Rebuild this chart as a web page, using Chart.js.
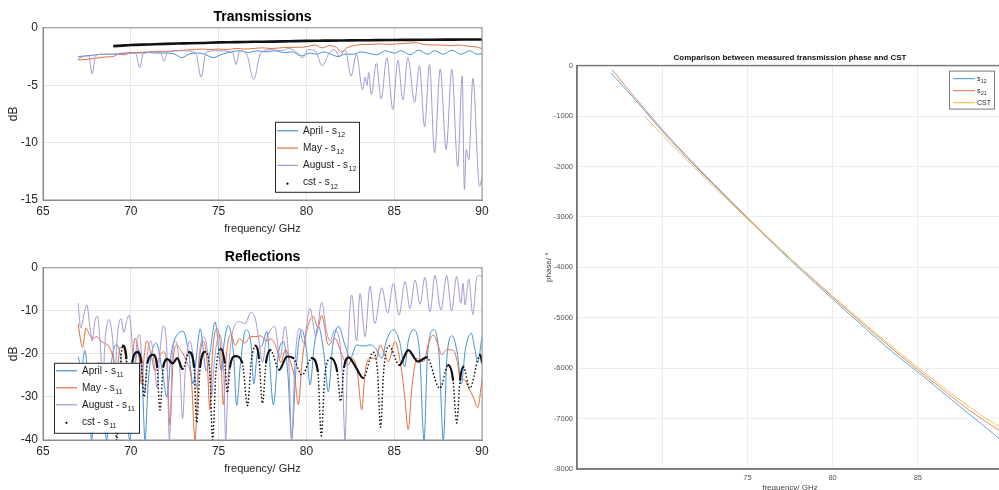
<!DOCTYPE html>
<html>
<head>
<meta charset="utf-8">
<script src="https://cdn.jsdelivr.net/npm/chart.js@4.4.0/dist/chart.umd.min.js"></script>
<style>
  html, body { margin: 0; padding: 0; background: #fff; overflow: hidden; }
  body { width: 999px; height: 490px; position: relative; }
  .box { position: absolute; }
  #trans { left: 0; top: 0; width: 500px; height: 240px; }
  #refl { left: 0; top: 240px; width: 500px; height: 240px; }
  #phase { left: 520px; top: 0; width: 487px; height: 496px; }
</style>
</head>
<body>
<div class="box" id="trans"><canvas id="transChart"></canvas></div>
<div class="box" id="refl"><canvas id="reflChart"></canvas></div>
<div class="box" id="phase"><canvas id="phaseChart"></canvas></div>
<script>
"use strict";

// ---- data: [frequency GHz, value] ----
const transApril = [[67.0,-2.5],[67.5,-2.45],[68.0,-2.35],[68.5,-2.3],[69.0,-2.3],[69.5,-2.25],[70.0,-2.15],[70.5,-2.2],[71.0,-2.15],[71.5,-2.2],[72.0,-2.2],[72.5,-2.3],[72.9,-2.6],[73.3,-2.3],[73.8,-2.2],[74.2,-2.3],[74.7,-2.6],[75.2,-2.3],[75.7,-2.1],[76.2,-2.0],[76.7,-2.15],[77.2,-2.0],[77.7,-2.1],[78.2,-2.0],[78.7,-2.15],[79.2,-2.1],[79.7,-2.45],[80.2,-2.2],[80.6,-2.3],[81.0,-2.1],[81.4,-2.3],[81.8,-2.5],[82.2,-2.3],[82.7,-2.3],[83.1,-2.1],[83.5,-2.2],[84.0,-2.35],[84.5,-2.0],[85.0,-2.2],[85.4,-2.0],[85.9,-2.35],[86.4,-1.95],[86.9,-2.3],[87.3,-2.0],[87.8,-2.3],[88.3,-1.95],[88.8,-2.3],[89.3,-2.0],[89.7,-2.3],[90.0,-2.25]];
const transMay = [[67.0,-2.8],[67.5,-2.75],[68.0,-2.65],[68.5,-2.55],[69.0,-2.5],[69.3,-2.3],[69.6,-2.35],[70.0,-2.2],[70.5,-2.15],[71.0,-2.1],[71.5,-2.05],[72.0,-2.05],[72.5,-2.0],[73.0,-1.95],[73.5,-1.9],[74.0,-1.85],[74.5,-1.9],[75.0,-1.85],[75.5,-1.9],[76.0,-1.8],[76.5,-1.85],[77.0,-1.8],[77.5,-1.75],[78.0,-1.8],[78.5,-1.75],[79.0,-1.7],[79.5,-1.7],[80.0,-1.65],[80.5,-1.5],[80.9,-1.75],[81.3,-1.55],[81.7,-1.7],[82.0,-2.1],[82.3,-1.75],[82.7,-1.55],[83.2,-1.45],[83.7,-1.45],[84.2,-1.4],[84.7,-1.45],[85.2,-1.4],[85.7,-1.35],[86.2,-1.3],[86.7,-1.45],[87.2,-1.5],[87.7,-1.5],[88.2,-1.55],[88.7,-1.5],[89.2,-1.6],[89.6,-1.65],[90.0,-1.8]];
const transAugust = [[67.0,-2.7],[67.3,-2.5],[67.6,-2.4],[67.8,-4.0],[68.0,-2.4],[68.5,-2.3],[69.0,-2.3],[69.5,-2.2],[70.0,-2.2],[70.3,-2.3],[70.5,-3.5],[70.7,-2.3],[71.2,-2.1],[71.7,-2.2],[71.9,-2.9],[72.1,-2.1],[73.0,-2.0],[73.7,-2.2],[74.0,-4.3],[74.3,-2.1],[75.0,-2.0],[75.8,-2.2],[76.0,-3.2],[76.2,-2.0],[76.6,-2.3],[77.0,-4.5],[77.4,-2.2],[78.0,-1.9],[78.6,-2.0],[79.0,-1.8],[79.5,-2.2],[79.8,-2.6],[80.1,-1.9],[80.5,-2.0],[80.9,-3.3],[81.3,-2.2],[81.6,-1.9],[81.9,-2.5],[82.2,-1.9],[82.55,-4.2],[82.85,-2.3],[83.2,-5.4],[83.35,-4.3],[83.45,-5.0],[83.55,-3.9],[83.7,-5.8],[83.98,-3.1],[84.26,-6.2],[84.58,-2.6],[84.92,-7.1],[85.21,-2.8],[85.49,-6.3],[85.78,-2.6],[86.16,-6.5],[86.44,-3.3],[86.73,-8.6],[87.01,-3.2],[87.3,-10.9],[87.62,-3.6],[87.96,-10.6],[88.28,-3.6],[88.62,-12.1],[88.87,-4.2],[89.0,-14.1],[89.1,-10.6],[89.25,-11.5],[89.48,-4.4],[89.86,-13.8],[90.0,-13.0]];
const transCst = [[69.0,-1.6],[69.5,-1.55],[70,-1.5],[71,-1.45],[72,-1.4],[73,-1.36],[74,-1.32],[75,-1.27],[76,-1.25],[77,-1.22],[78,-1.2],[79,-1.17],[80,-1.14],[81,-1.12],[82,-1.1],[83,-1.09],[84,-1.07],[85,-1.06],[86,-1.05],[87,-1.04],[88,-1.03],[89,-1.02],[90,-1.02]];

const reflApril = [[67.0,-20.6],[67.2,-23],[67.38,-19.2],[67.58,-27],[67.77,-40],[67.95,-27],[68.15,-22],[68.35,-27],[68.63,-40],[68.85,-24],[69.2,-17.8],[69.55,-24],[69.95,-40],[70.15,-26],[70.45,-19],[70.65,-26],[70.81,-40],[71.0,-26],[71.45,-17.5],[71.8,-24],[72.05,-30],[72.3,-20],[72.65,-15.5],[73.0,-14.8],[73.3,-20],[73.55,-27],[73.75,-20],[73.95,-14.2],[74.3,-24],[74.5,-20],[74.8,-12.6],[75.17,-24],[75.3,-18],[75.55,-13.4],[75.85,-20],[76.03,-32],[76.25,-22],[76.55,-14.4],[76.85,-18],[77.0,-27],[77.2,-20],[77.5,-17.8],[77.75,-14.8],[78.12,-31.8],[78.4,-20],[78.69,-17.1],[78.95,-25],[79.16,-39.6],[79.4,-24],[79.73,-14.4],[80.0,-19],[80.21,-27.2],[80.45,-18],[80.68,-13.6],[81.0,-20],[81.25,-28.8],[81.5,-18],[81.82,-13.6],[82.2,-18],[82.5,-21],[82.86,-17.9],[83.2,-18.2],[83.62,-17.9],[83.9,-18.5],[84.3,-21],[84.55,-17],[84.95,-14.4],[85.3,-17],[85.6,-23],[85.8,-17],[86.1,-14.4],[86.45,-20],[86.7,-40],[86.9,-20],[87.25,-14.4],[87.55,-20],[87.8,-40],[88.0,-21],[88.3,-15.8],[88.6,-20],[88.82,-27],[89.05,-19],[89.38,-15.2],[89.6,-19],[89.75,-22],[90.0,-16]];
const reflMay = [[67.0,-13],[67.15,-17],[67.25,-18.5],[67.45,-14],[67.65,-15.5],[67.85,-16.4],[68.05,-16],[68.3,-17],[68.5,-17.5],[68.8,-18.5],[69.0,-21],[69.2,-24],[69.4,-18.5],[69.6,-19],[69.95,-25.7],[70.24,-16.4],[70.45,-20],[70.6,-27],[70.75,-21],[70.9,-17],[71.15,-20],[71.38,-24],[71.6,-21],[71.85,-19.5],[72.05,-22],[72.23,-36.5],[72.4,-22],[72.6,-18],[72.9,-19.5],[73.2,-22],[73.45,-26],[73.66,-40],[73.85,-24],[74.13,-17.1],[74.35,-22],[74.5,-33],[74.65,-20],[74.89,-14.1],[75.1,-18],[75.27,-31.8],[75.45,-20],[75.7,-15.5],[75.95,-18],[76.2,-16.5],[76.5,-17.5],[76.8,-16],[77.07,-16],[77.4,-15.8],[77.7,-17],[78.0,-16.5],[78.3,-18.7],[78.55,-22],[78.8,-19],[79.1,-22],[79.35,-26],[79.54,-31.8],[79.75,-22],[80.0,-15],[80.4,-11.3],[80.65,-14],[80.87,-11.0],[81.25,-17.9],[81.63,-16.4],[82.0,-20],[82.39,-22.6],[82.6,-21],[82.9,-24],[83.15,-33],[83.35,-24],[83.6,-21],[84.0,-21],[84.19,-17.9],[84.45,-20],[84.67,-21.8],[85.05,-17.1],[85.35,-22],[85.6,-30],[85.8,-37.6],[86.0,-28],[86.3,-21],[86.66,-21.8],[87.0,-17],[87.23,-15.6],[87.5,-18],[87.7,-20.2],[88.0,-19],[88.37,-19.2],[88.6,-22],[88.75,-25.7],[89.0,-26],[89.25,-28],[89.5,-30],[89.75,-32.5],[90.0,-26]];
const reflAugust = [[67.0,-8.2],[67.15,-14],[67.35,-10.5],[67.5,-8.6],[67.65,-13],[67.8,-17],[67.95,-12.5],[68.1,-11.2],[68.25,-17],[68.4,-26],[68.55,-16],[68.75,-12],[68.95,-16],[69.1,-24],[69.25,-15],[69.45,-11.8],[69.6,-15],[69.75,-12.5],[69.9,-11],[70.05,-16],[70.2,-27],[70.35,-17],[70.5,-15.5],[70.65,-22],[70.8,-29],[70.95,-20],[71.15,-17],[71.35,-23],[71.5,-28],[71.65,-20],[71.85,-13.5],[72.05,-19],[72.2,-40],[72.35,-22],[72.55,-17],[72.8,-24],[72.95,-35],[73.1,-24],[73.35,-17],[73.6,-22],[73.75,-28],[73.9,-20],[74.15,-16],[74.45,-22],[74.6,-30],[74.75,-22],[75.05,-15.5],[75.3,-25],[75.4,-40],[75.55,-25],[75.85,-14],[76.2,-12.5],[76.5,-13],[76.85,-10.3],[77.1,-12],[77.3,-17],[77.5,-22],[77.7,-17],[77.95,-14.5],[78.2,-13.6],[78.5,-21],[78.78,-13.6],[79.0,-22],[79.16,-40],[79.35,-22],[79.6,-14],[79.83,-17.5],[80.2,-9.4],[80.55,-16],[80.87,-8.0],[81.15,-14.8],[81.35,-17],[81.6,-14.5],[81.85,-16],[82.05,-25],[82.2,-40],[82.35,-20],[82.58,-6.3],[82.86,-17],[83.05,-6.0],[83.34,-16],[83.62,-4.3],[83.9,-13],[84.29,-4.6],[84.63,-10.5],[84.95,-3.6],[85.27,-11],[85.62,-3.2],[85.9,-9.5],[86.19,-2.8],[86.47,-8.5],[86.75,-2.2],[87.04,-10.2],[87.32,-1.8],[87.66,-9.8],[87.99,-1.8],[88.27,-10],[88.56,-2.0],[88.8,-8.2],[88.92,-3.6],[89.03,-8.6],[89.25,-2.6],[89.48,-10.9],[89.7,-2.3],[89.85,-1.8],[90.0,-1.9]];
const reflCst = [[68.9,-24],[69.05,-30],[69.2,-40],[69.35,-26],[69.55,-18.1],[69.75,-21],[69.9,-33],[70.05,-23],[70.37,-19.6],[70.6,-22],[70.75,-30],[70.95,-22],[71.28,-20.2],[71.5,-23],[71.66,-33],[71.85,-23],[72.1,-21.2],[72.38,-22.2],[72.65,-21.0],[72.95,-23.5],[73.33,-19.6],[73.6,-23],[73.75,-36],[73.95,-23],[74.23,-19.5],[74.5,-24],[74.66,-40],[74.85,-24],[75.12,-18.8],[75.35,-22],[75.5,-29],[75.65,-23],[75.95,-20.5],[76.35,-22],[76.65,-32],[76.85,-22],[77.1,-18.1],[77.3,-21],[77.5,-31.5],[77.7,-22],[77.95,-19.1],[78.45,-23.7],[78.9,-20.6],[79.25,-21.0],[79.75,-24.9],[80.3,-21.0],[80.65,-24],[80.85,-39],[81.05,-25],[81.4,-21.0],[81.75,-24],[81.95,-31],[82.15,-23],[82.4,-20.8],[82.8,-23],[83.24,-25.6],[83.8,-19.6],[84.05,-24],[84.22,-37],[84.4,-24],[84.7,-18.1],[85.3,-22.6],[85.8,-19.1],[86.35,-21.8],[86.85,-20.8],[87.6,-28],[88.08,-22.6],[88.35,-26],[88.56,-36],[88.75,-26],[88.94,-23],[89.3,-28],[89.9,-20.2],[90.0,-22]];

const phaseS12 = [[67.0,-146],[68,-520],[69,-905],[70,-1300],[71,-1665],[72,-2015],[73,-2360],[74,-2700],[75,-3035],[76,-3365],[77,-3690],[78,-4010],[79,-4320],[80,-4630],[81,-4935],[82,-5235],[83,-5530],[84,-5810],[85,-6075],[86,-6355],[87,-6630],[88,-6905],[89,-7180],[90,-7460]];
const phaseS21 = [[67.06,-80],[68,-470],[69,-870],[70,-1265],[71,-1635],[72,-1990],[73,-2335],[74,-2675],[75,-3010],[76,-3340],[77,-3660],[78,-3975],[79,-4285],[80,-4590],[81,-4890],[82,-5185],[83,-5475],[84,-5755],[85,-6030],[86,-6300],[87,-6570],[88,-6830],[89,-7060],[90,-7290]];
const phaseCst = [[69.0,-1020],[70,-1370],[71,-1715],[72,-2055],[73,-2390],[74,-2720],[75,-3040],[76,-3355],[77,-3665],[78,-3970],[79,-4270],[80,-4570],[81,-4865],[82,-5155],[83,-5440],[84,-5715],[85,-5985],[86,-6250],[87,-6515],[88,-6760],[89,-7000],[90,-7190]];

const freqTicks = [65, 70, 75, 80, 85, 90];

const BLUE = '#4392d2', ORANGE = '#e06f3e', PURPLE = '#a996d3';
Chart.defaults.font.family = '"Liberation Sans", Arial, sans-serif';

const pts = arr => arr.map(([x, y]) => ({ x, y }));

// axes box + matlab-ish legend drawn in the chart area
const boxLegend = {
  id: 'boxLegend',
  afterDatasetsDraw(chart, args, opts) {
    const { ctx, chartArea: a } = chart;
    ctx.save();
    ctx.strokeStyle = opts.frame;
    ctx.lineWidth = opts.frameWidth || 1;
    ctx.strokeRect(a.left, a.top, a.right - a.left, a.bottom - a.top);
    ctx.restore();
  },
  afterDraw(chart, args, opts) {
    if (!opts.w) return;
    const { ctx, chartArea: a } = chart;
    const x = opts.right != null ? a.right - opts.right - opts.w : a.left + opts.left;
    const y = a.top + opts.top;
    ctx.save();
    ctx.fillStyle = '#fff';
    ctx.fillRect(x, y, opts.w, opts.h);
    ctx.strokeStyle = opts.border;
    ctx.lineWidth = 1;
    ctx.strokeRect(x + 0.5, y + 0.5, opts.w, opts.h);
    chart.data.datasets.forEach((ds, i) => {
      const cy = y + opts.first + opts.row * i;
      if (ds.legendDot) {
        ctx.fillStyle = '#000';
        ctx.beginPath();
        ctx.arc(x + (opts.lineFrom + opts.lineTo) / 2, cy + 1, 1.1, 0, Math.PI * 2);
        ctx.fill();
      } else {
        ctx.strokeStyle = ds.borderColor;
        ctx.lineWidth = 1.2;
        ctx.beginPath();
        ctx.moveTo(x + opts.lineFrom, cy);
        ctx.lineTo(x + opts.lineTo, cy);
        ctx.stroke();
      }
      ctx.fillStyle = '#1a1a1a';
      ctx.textBaseline = 'middle';
      ctx.font = opts.size + 'px "Liberation Sans", Arial, sans-serif';
      ctx.fillText(ds.legendName, x + opts.textAt, cy);
      if (ds.legendSub) {
        const w = ctx.measureText(ds.legendName).width;
        ctx.font = opts.subSize + 'px "Liberation Sans", Arial, sans-serif';
        ctx.fillText(ds.legendSub, x + opts.textAt + w + 0.5, cy + opts.size * 0.4);
      }
    });
    ctx.restore();
  }
};
Chart.register(boxLegend);

// steep parts of the sparse cst trace show as separate dots
const steep = ctx => Math.abs(ctx.p1.parsed.y - ctx.p0.parsed.y) > 3.5;

function dbOptions(title, yMin, yStep, legend) {
  return {
    responsive: true,
    maintainAspectRatio: false,
    animation: false,
    layout: { padding: { right: 18 } },
    elements: { point: { radius: 0 }, line: { borderWidth: 1, cubicInterpolationMode: 'monotone' } },
    plugins: {
      legend: { display: false },
      tooltip: { enabled: false },
      title: { display: true, text: title, fullSize: false, color: '#000',
               font: { size: 14, weight: 'bold' }, padding: { top: 9, bottom: 2 } },
      boxLegend: Object.assign({ frame: '#8c8c8c', border: '#262626', first: 9, row: 17.3,
                                 lineFrom: 2, lineTo: 23, textAt: 28, size: 10, subSize: 7, w: 84, h: 70 }, legend)
    },
    scales: {
      x: {
        type: 'linear', min: 65, max: 90,
        afterBuildTicks: s => { s.ticks = freqTicks.map(v => ({ value: v })); },
        ticks: { padding: 4, color: '#262626', font: { size: 12 } },
        grid: { color: '#e6e6e6', drawTicks: false },
        border: { color: '#8c8c8c' },
        title: { display: true, text: 'frequency/ GHz', color: '#262626', font: { size: 11 }, padding: { top: 0, bottom: 4 } },
        afterFit: s => { s.height = 40; }
      },
      y: {
        min: yMin, max: 0,
        ticks: { stepSize: yStep, padding: 5, color: '#262626', font: { size: 12 } },
        grid: { color: '#e6e6e6', drawTicks: false },
        border: { color: '#8c8c8c' },
        title: { display: true, text: 'dB', color: '#262626', font: { size: 12 }, padding: { top: 6, bottom: 0 } },
        afterFit: s => { s.width = 43; }
      }
    }
  };
}

new Chart(document.getElementById('transChart'), {
  type: 'line',
  data: {
    datasets: [
      { label: 'April - s12', legendName: 'April - s', legendSub: '12', data: pts(transApril), borderColor: BLUE, order: 3 },
      { label: 'May - s12', legendName: 'May - s', legendSub: '12', data: pts(transMay), borderColor: ORANGE, order: 2 },
      { label: 'August - s12', legendName: 'August - s', legendSub: '12', data: pts(transAugust), borderColor: PURPLE, order: 1 },
      { label: 'cst - s12', legendName: 'cst - s', legendSub: '12', legendDot: true, data: pts(transCst),
        borderColor: '#111', borderWidth: 2.6, order: 0 }
    ]
  },
  options: dbOptions('Transmissions', -15, 5, { left: 232, top: 94 })
});

new Chart(document.getElementById('reflChart'), {
  type: 'line',
  data: {
    datasets: [
      { label: 'April - s11', legendName: 'April - s', legendSub: '11', data: pts(reflApril), borderColor: BLUE, order: 3 },
      { label: 'May - s11', legendName: 'May - s', legendSub: '11', data: pts(reflMay), borderColor: ORANGE, order: 2 },
      { label: 'August - s11', legendName: 'August - s', legendSub: '11', data: pts(reflAugust), borderColor: PURPLE, order: 1 },
      { label: 'cst - s11', legendName: 'cst - s', legendSub: '11', legendDot: true, data: pts(reflCst),
        borderColor: '#111', borderWidth: 2.2, borderCapStyle: 'round', order: 0,
        segment: {
          borderDash: ctx => steep(ctx) ? [0, 3.6] : undefined,
          borderWidth: ctx => steep(ctx) ? 1.7 : undefined
        } }
    ]
  },
  options: dbOptions('Reflections', -40, 10, { left: 11, top: 95, w: 85, first: 8, row: 17 })
});

new Chart(document.getElementById('phaseChart'), {
  type: 'line',
  data: {
    datasets: [
      { label: 's12', legendName: 's', legendSub: '12', data: pts(phaseS12), borderColor: '#5aa9df', order: 2 },
      { label: 's21', legendName: 's', legendSub: '21', data: pts(phaseS21), borderColor: '#e8875f', order: 1 },
      { label: 'CST', legendName: 'CST', data: pts(phaseCst), borderColor: '#f0c25a', order: 0 }
    ]
  },
  options: {
    responsive: true,
    maintainAspectRatio: false,
    animation: false,
    elements: { point: { radius: 0 }, line: { borderWidth: 1, cubicInterpolationMode: 'monotone' } },
    plugins: {
      legend: { display: false },
      tooltip: { enabled: false },
      title: { display: true, text: 'Comparison between measured transmission phase and CST', fullSize: false,
               color: '#111', font: { size: 8, weight: 'bold' }, padding: { top: 53, bottom: 3 } },
      boxLegend: { frame: '#7a7a7a', frameWidth: 1.5, border: '#7a7a7a', right: 9, top: 5, w: 45, h: 38,
                   first: 8, row: 12, lineFrom: 4, lineTo: 26, textAt: 28, size: 7, subSize: 5 }
    },
    scales: {
      x: {
        type: 'linear', min: 65, max: 90,
        afterBuildTicks: s => { s.ticks = freqTicks.map(v => ({ value: v })); },
        ticks: { padding: 4, color: '#555', font: { size: 7.5 }, callback: v => (v >= 75 && v <= 85) ? String(v) : '' },
        grid: { color: '#ececec', drawTicks: false },
        border: { color: '#7a7a7a', width: 1.5 },
        title: { display: true, text: 'frequency/ GHz', color: '#444', font: { size: 8 }, padding: { top: 0, bottom: 3 } },
        afterFit: s => { s.height = 27; }
      },
      y: {
        min: -8000, max: 0,
        ticks: { stepSize: 1000, padding: 4, color: '#555', font: { size: 7.5 }, callback: v => String(v) },
        grid: { color: '#ececec', drawTicks: false },
        border: { color: '#7a7a7a', width: 1.5 },
        title: { display: true, text: 'phase/ °', color: '#444', font: { size: 8 }, padding: { top: 24, bottom: 0 } },
        afterFit: s => { s.width = 57; }
      }
    }
  }
});
</script>
</body>
</html>
